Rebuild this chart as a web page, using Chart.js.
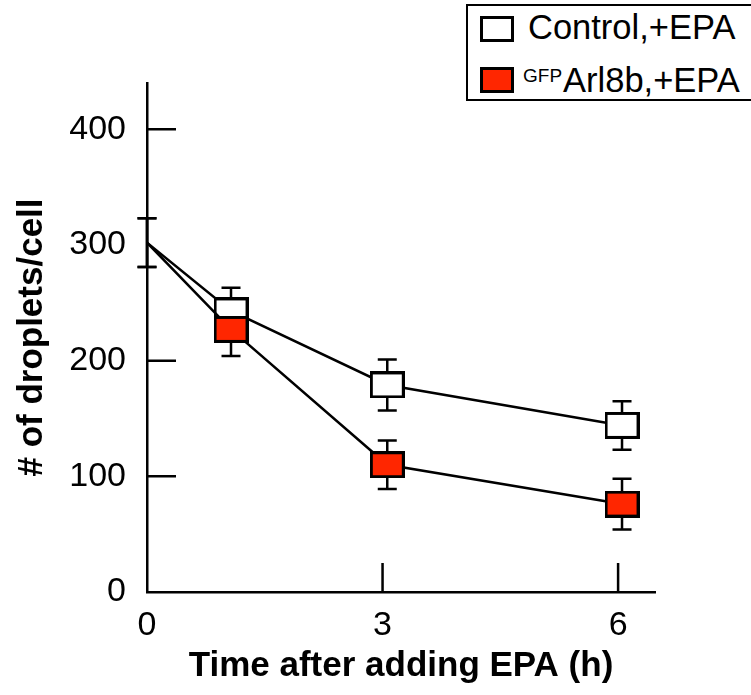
<!DOCTYPE html>
<html>
<head>
<meta charset="utf-8">
<script src="https://cdn.jsdelivr.net/npm/chart.js@4.4.1/dist/chart.umd.min.js"></script>
<style>
body{margin:0;background:#fff;}
#wrap{position:relative;width:751px;height:695px;overflow:hidden;font-family:'Liberation Sans',Arial,sans-serif;}
#legend{position:absolute;left:466px;top:4px;width:300px;height:97px;border:2px solid #000;box-sizing:border-box;background:#fff;}
.sw{position:absolute;left:12px;width:34px;height:26px;border:3px solid #000;box-sizing:border-box;}
.lbl{position:absolute;font-size:34.5px;line-height:34px;color:#000;white-space:nowrap;}
.lbl sup{font-size:19px;vertical-align:top;position:relative;top:-4px;margin-right:1px;}
</style>
</head>
<body>
<div id="wrap">
  <canvas id="chart" width="751" height="695"></canvas>
  <div id="legend">
    <div class="sw" style="top:10px;background:#fff;"></div>
    <div class="lbl" style="left:60px;top:4px;">Control,+EPA</div>
    <div class="sw" style="top:61px;background:#ff2600;"></div>
    <div class="lbl" style="left:55px;top:57px;"><sup>GFP</sup>Arl8b,+EPA</div>
  </div>
</div>
<script>
// ---- data ----
const hours = [0, 1.07, 3.06, 6.05];
const controlMean = [302, 243, 179, 144];
const controlErr = [21, 20, 22, 21];
const arl8bMean = [302, 227, 110, 76];
const arl8bErr = [21, 23, 21, 22];

const xTickValues = [0, 3, 6];
const yTickValues = [0, 100, 200, 300, 400];
const yInnerMarks = [100, 200, 400];
const xInnerMarks = [3, 6];

const RED = '#ff2600';
const FONT = "'Liberation Sans', Arial, sans-serif";

// rectangular markers (wider than tall)
function makeMarker(fill){
  const c=document.createElement('canvas');
  c.width=35;c.height=27;
  const g=c.getContext('2d');
  g.fillStyle=fill;g.fillRect(0,0,35,27);
  g.strokeStyle='#000';g.lineWidth=3;
  g.strokeRect(1.5,1.5,32,24);
  return c;
}
const whiteBox=makeMarker('#fff');
const redBox=makeMarker(RED);

// error bars under the markers
const errorBars={
  id:'errorBars',
  beforeDatasetsDraw(chart){
    const {ctx,scales:{x,y}}=chart;
    ctx.save();
    ctx.strokeStyle='#000';ctx.lineWidth=2.5;
    [[controlMean,controlErr],[arl8bMean,arl8bErr]].forEach(([m,e])=>{
      hours.forEach((h,i)=>{
        const px=x.getPixelForValue(h);
        const top=y.getPixelForValue(m[i]+e[i]);
        const bot=y.getPixelForValue(m[i]-e[i]);
        ctx.beginPath();
        ctx.moveTo(px,top);ctx.lineTo(px,bot);
        ctx.moveTo(px-9.5,top);ctx.lineTo(px+9.5,top);
        ctx.moveTo(px-9.5,bot);ctx.lineTo(px+9.5,bot);
        ctx.stroke();
      });
    });
    ctx.restore();
  }
};

// tick marks pointing into the plot
const innerTicks={
  id:'innerTicks',
  afterDraw(chart){
    const {ctx,scales:{x,y},chartArea:a}=chart;
    ctx.save();
    ctx.strokeStyle='#000';ctx.lineWidth=2.5;
    ctx.beginPath();
    yInnerMarks.forEach(v=>{
      const py=y.getPixelForValue(v);
      ctx.moveTo(a.left,py);ctx.lineTo(a.left+29,py);
    });
    xInnerMarks.forEach(v=>{
      const px=x.getPixelForValue(v);
      ctx.moveTo(px,a.bottom);ctx.lineTo(px,a.bottom-29);
    });
    ctx.stroke();
    ctx.restore();
  }
};

const ctx=document.getElementById('chart').getContext('2d');
new Chart(ctx,{
  type:'line',
  data:{
    datasets:[
      {
        label:'GFP Arl8b,+EPA',
        data:hours.map((h,i)=>({x:h,y:arl8bMean[i]})),
        borderColor:'#000',borderWidth:2.5,
        pointStyle:redBox,pointRadius:[0,10,10,10],
        tension:0,fill:false
      },
      {
        label:'Control,+EPA',
        data:hours.map((h,i)=>({x:h,y:controlMean[i]})),
        borderColor:'#000',borderWidth:2.5,
        pointStyle:whiteBox,pointRadius:[0,10,10,10],
        tension:0,fill:false
      }
    ]
  },
  options:{
    responsive:false,
    animation:false,
    devicePixelRatio:1,
    layout:{padding:{top:83,right:96,left:0,bottom:0}},
    plugins:{legend:{display:false},tooltip:{enabled:false}},
    scales:{
      x:{
        type:'linear',min:0,max:6.47,
        afterFit:s=>{s.height=103;},
        afterBuildTicks:s=>{s.ticks=xTickValues.map(v=>({value:v}));},
        grid:{display:false},
        border:{display:true,color:'#000',width:2.5},
        ticks:{color:'#000',padding:5,maxRotation:0,autoSkip:false,font:{family:FONT,size:34}},
        title:{display:true,text:'Time after adding EPA (h)',color:'#000',
          font:{family:FONT,size:35,weight:'bold'},padding:{top:0,bottom:8}}
      },
      y:{
        type:'linear',min:0,max:440,
        afterFit:s=>{s.width=147;},
        afterBuildTicks:s=>{s.ticks=yTickValues.map(v=>({value:v}));},
        grid:{display:false},
        border:{display:true,color:'#000',width:2.5},
        ticks:{color:'#000',padding:13,font:{family:FONT,size:34}},
        title:{display:true,text:'# of droplets/cell',color:'#000',
          font:{family:FONT,size:35,weight:'bold'},padding:{top:11,bottom:0}}
      }
    }
  },
  plugins:[errorBars,innerTicks]
});
</script>
</body>
</html>
